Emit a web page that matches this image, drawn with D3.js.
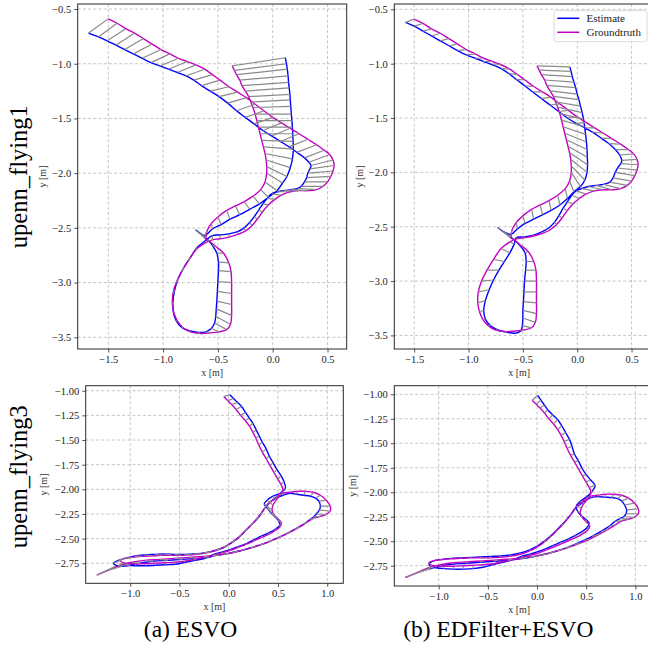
<!DOCTYPE html>
<html><head><meta charset="utf-8">
<script src="https://cdn.jsdelivr.net/npm/d3@7"></script>
<style>body{margin:0;background:#fff}svg{display:block}</style>
</head><body>
<svg id="chart" width="648" height="648"></svg>
<script>
// ---------------- data (metres) ----------------
const gtFlying1 = [
 [-1.50,-0.59],[-1.42,-0.63],[-1.34,-0.68],[-1.26,-0.72],[-1.18,-0.77],[-1.10,-0.82],[-1.02,-0.87],[-0.94,-0.91],[-0.86,-0.95],[-0.78,-0.98],[-0.70,-1.01],[-0.62,-1.05],[-0.55,-1.10],[-0.48,-1.15],[-0.40,-1.21],[-0.32,-1.26],[-0.24,-1.31],[-0.16,-1.37],[-0.08,-1.43],[0.00,-1.49],[0.08,-1.54],[0.16,-1.59],[0.24,-1.64],[0.32,-1.69],[0.40,-1.74],[0.47,-1.79],[0.52,-1.83],[0.55,-1.88],
 [0.56,-1.93],[0.55,-1.98],[0.53,-2.03],[0.50,-2.08],[0.46,-2.12],[0.40,-2.15],[0.32,-2.16],[0.24,-2.16],[0.16,-2.17],
 [0.08,-2.20],[0.02,-2.24],[-0.04,-2.29],[-0.09,-2.35],[-0.14,-2.42],[-0.19,-2.48],[-0.25,-2.53],[-0.32,-2.56],[-0.40,-2.585],[-0.48,-2.60],[-0.55,-2.61],
 [-0.62,-2.64],[-0.70,-2.70],[-0.77,-2.80],[-0.83,-2.90],[-0.88,-3.00],[-0.91,-3.10],[-0.915,-3.20],[-0.90,-3.28],[-0.87,-3.35],[-0.82,-3.41],[-0.75,-3.45],[-0.66,-3.465],[-0.57,-3.46],[-0.49,-3.45],[-0.42,-3.43],[-0.385,-3.38],[-0.375,-3.30],[-0.375,-3.20],[-0.375,-3.10],[-0.375,-3.00],[-0.38,-2.90],[-0.40,-2.82],[-0.45,-2.73],[-0.52,-2.67],[-0.58,-2.62],
 [-0.615,-2.60],[-0.61,-2.59],
 [-0.60,-2.53],[-0.56,-2.46],[-0.50,-2.40],[-0.42,-2.34],[-0.34,-2.30],[-0.26,-2.26],[-0.18,-2.21],[-0.11,-2.15],[-0.07,-2.08],
 [-0.055,-2.00],[-0.055,-1.94],[-0.06,-1.88],[-0.07,-1.82],[-0.085,-1.76],[-0.10,-1.70],[-0.115,-1.64],[-0.13,-1.58],[-0.145,-1.52],[-0.16,-1.46],[-0.18,-1.40],[-0.20,-1.35],[-0.22,-1.30],[-0.25,-1.25],[-0.28,-1.20],[-0.30,-1.15],[-0.33,-1.10],[-0.35,-1.06],[-0.37,-1.02]
];
const estEsvoFlying1 = [
 [-1.68,-0.72],[-1.59,-0.755],[-1.51,-0.79],[-1.43,-0.83],[-1.35,-0.87],[-1.27,-0.91],[-1.19,-0.95],[-1.11,-0.99],[-1.03,-1.02],[-0.95,-1.05],[-0.87,-1.08],[-0.79,-1.11],[-0.72,-1.15],[-0.65,-1.20],[-0.57,-1.25],[-0.49,-1.30],[-0.41,-1.36],[-0.33,-1.43],[-0.25,-1.49],[-0.17,-1.55],[-0.09,-1.61],[-0.01,-1.66],[0.07,-1.71],[0.15,-1.76],[0.22,-1.81],[0.29,-1.86],[0.33,-1.90],[0.35,-1.93],
 [0.34,-1.96],[0.32,-2.00],[0.31,-2.04],[0.29,-2.08],[0.26,-2.12],[0.23,-2.14],[0.17,-2.15],[0.10,-2.16],[0.04,-2.17],
 [-0.01,-2.19],[-0.05,-2.23],[-0.09,-2.28],[-0.13,-2.34],[-0.17,-2.40],[-0.21,-2.45],[-0.26,-2.50],[-0.32,-2.535],[-0.40,-2.555],[-0.48,-2.565],[-0.55,-2.57],
 [-0.63,-2.63],[-0.69,-2.68],[-0.75,-2.77],[-0.81,-2.86],[-0.86,-2.96],[-0.895,-3.07],[-0.91,-3.18],[-0.905,-3.28],[-0.88,-3.35],[-0.83,-3.41],[-0.76,-3.44],[-0.68,-3.455],[-0.61,-3.45],[-0.56,-3.42],[-0.53,-3.37],[-0.52,-3.31],[-0.515,-3.24],[-0.51,-3.17],[-0.505,-3.08],[-0.50,-2.99],[-0.495,-2.89],[-0.495,-2.81],[-0.51,-2.73],[-0.55,-2.66],[-0.59,-2.61],
 [-0.70,-2.52],[-0.66,-2.55],
 [-0.62,-2.57],[-0.55,-2.51],[-0.47,-2.47],[-0.39,-2.42],[-0.30,-2.38],[-0.21,-2.33],[-0.12,-2.28],[-0.04,-2.22],[0.04,-2.16],
 [0.09,-2.09],[0.13,-2.03],[0.16,-1.95],[0.18,-1.87],[0.188,-1.78],[0.186,-1.71],[0.183,-1.64],[0.18,-1.58],[0.175,-1.52],[0.17,-1.46],[0.165,-1.39],[0.16,-1.33],[0.157,-1.28],[0.15,-1.22],[0.145,-1.17],[0.14,-1.11],[0.133,-1.05],[0.125,-1.00],[0.115,-0.945]
];
const estEdfFlying1 = [
 [-1.58,-0.62],[-1.50,-0.655],[-1.42,-0.70],[-1.34,-0.745],[-1.26,-0.79],[-1.18,-0.835],[-1.10,-0.88],[-1.02,-0.92],[-0.94,-0.95],[-0.86,-0.98],[-0.78,-1.01],[-0.70,-1.045],[-0.63,-1.09],[-0.56,-1.145],[-0.48,-1.205],[-0.41,-1.26],[-0.33,-1.32],[-0.25,-1.38],[-0.17,-1.44],[-0.09,-1.50],[-0.01,-1.55],[0.07,-1.59],[0.14,-1.63],[0.22,-1.685],[0.29,-1.735],[0.35,-1.79],[0.39,-1.84],[0.41,-1.89],
 [0.40,-1.92],[0.37,-1.96],[0.35,-2.00],[0.33,-2.05],[0.30,-2.09],[0.24,-2.11],[0.17,-2.12],[0.10,-2.13],[0.04,-2.15],
 [-0.01,-2.17],[-0.05,-2.21],[-0.09,-2.27],[-0.13,-2.33],[-0.17,-2.40],[-0.21,-2.46],[-0.26,-2.51],[-0.33,-2.55],[-0.41,-2.58],[-0.49,-2.595],[-0.56,-2.60],
 [-0.58,-2.66],[-0.62,-2.74],[-0.67,-2.82],[-0.72,-2.90],[-0.77,-2.99],[-0.81,-3.08],[-0.845,-3.18],[-0.86,-3.27],[-0.845,-3.35],[-0.80,-3.41],[-0.73,-3.45],[-0.65,-3.47],[-0.57,-3.48],[-0.52,-3.46],[-0.505,-3.41],[-0.50,-3.34],[-0.50,-3.27],[-0.495,-3.19],[-0.49,-3.10],[-0.485,-3.00],[-0.475,-2.90],[-0.47,-2.82],[-0.48,-2.74],[-0.53,-2.67],[-0.58,-2.62],
 [-0.73,-2.51],[-0.67,-2.55],
 [-0.61,-2.57],[-0.55,-2.52],[-0.48,-2.47],[-0.40,-2.43],[-0.32,-2.39],[-0.24,-2.35],[-0.16,-2.30],[-0.09,-2.24],[-0.03,-2.18],
 [0.03,-2.13],[0.07,-2.07],[0.09,-2.00],[0.095,-1.93],[0.093,-1.86],[0.09,-1.79],[0.085,-1.72],[0.077,-1.65],[0.068,-1.58],[0.058,-1.51],[0.045,-1.45],[0.03,-1.39],[0.015,-1.33],[0.0,-1.28],[-0.015,-1.22],[-0.03,-1.17],[-0.045,-1.12],[-0.057,-1.07],[-0.068,-1.03]
];
const gtFlying3 = [
 [-0.05,-1.06],[-0.01,-1.10],[0.03,-1.14],[0.075,-1.19],[0.12,-1.25],[0.165,-1.30],[0.21,-1.36],[0.245,-1.42],[0.275,-1.48],[0.305,-1.55],[0.34,-1.62],[0.38,-1.69],[0.42,-1.76],[0.46,-1.83],[0.50,-1.90],[0.53,-1.95],[0.55,-2.00],
 [0.52,-2.06],[0.48,-2.11],[0.45,-2.16],[0.44,-2.21],[0.46,-2.26],[0.50,-2.30],[0.535,-2.34],[0.52,-2.38],[0.47,-2.42],[0.40,-2.46],[0.33,-2.49],[0.25,-2.525],[0.17,-2.56],[0.09,-2.59],[0.01,-2.62],[-0.07,-2.645],[-0.15,-2.665],
 [-0.25,-2.69],[-0.35,-2.71],[-0.45,-2.73],[-0.55,-2.74],[-0.65,-2.745],[-0.75,-2.75],[-0.85,-2.755],[-0.95,-2.755],[-1.03,-2.75],
 [-1.08,-2.74],[-1.10,-2.72],[-1.06,-2.70],[-0.98,-2.69],
 [-0.88,-2.68],[-0.78,-2.675],[-0.68,-2.67],[-0.58,-2.67],[-0.48,-2.67],[-0.38,-2.665],[-0.28,-2.655],[-0.18,-2.635],[-0.08,-2.60],
 [0.00,-2.56],[0.07,-2.51],[0.13,-2.46],[0.19,-2.40],[0.25,-2.34],[0.30,-2.28],[0.34,-2.23],[0.38,-2.17],[0.43,-2.12],[0.49,-2.07],[0.55,-2.04],
 [0.62,-2.03],[0.70,-2.02],[0.78,-2.02],[0.86,-2.03],[0.93,-2.06],[0.99,-2.11],[1.03,-2.17],[1.03,-2.22],[0.99,-2.255],[0.93,-2.275],[0.87,-2.29],
 [0.80,-2.33],[0.72,-2.38],[0.63,-2.43],[0.54,-2.475],[0.45,-2.515],[0.36,-2.55],[0.27,-2.58],[0.18,-2.605],[0.09,-2.63],[0.00,-2.65],[-0.10,-2.665],
 [-0.25,-2.68],[-0.40,-2.69],[-0.55,-2.70],[-0.70,-2.71],[-0.85,-2.72],[-0.98,-2.74],[-1.10,-2.77],[-1.22,-2.82],[-1.34,-2.87]
];
const estEsvoFlying3 = [
 [0.01,-1.04],[0.05,-1.08],[0.09,-1.12],[0.13,-1.16],[0.17,-1.22],[0.21,-1.28],[0.245,-1.33],[0.28,-1.40],[0.31,-1.46],[0.34,-1.52],[0.38,-1.59],[0.41,-1.66],[0.45,-1.73],[0.49,-1.80],[0.53,-1.86],[0.56,-1.92],[0.575,-1.99],
 [0.52,-2.04],[0.45,-2.07],[0.39,-2.11],[0.36,-2.15],[0.39,-2.19],[0.44,-2.25],[0.50,-2.31],[0.52,-2.36],[0.48,-2.40],[0.41,-2.44],[0.34,-2.47],[0.26,-2.51],[0.18,-2.55],[0.10,-2.58],[0.02,-2.61],[-0.06,-2.635],[-0.14,-2.655],
 [-0.24,-2.70],[-0.34,-2.72],[-0.44,-2.74],[-0.54,-2.76],[-0.64,-2.765],[-0.74,-2.77],[-0.84,-2.775],[-0.94,-2.775],[-1.04,-2.77],
 [-1.12,-2.78],[-1.17,-2.75],[-1.12,-2.72],[-1.05,-2.70],
 [-0.95,-2.675],[-0.85,-2.665],[-0.75,-2.66],[-0.65,-2.655],[-0.55,-2.66],[-0.45,-2.66],[-0.35,-2.655],[-0.25,-2.645],[-0.14,-2.62],
 [-0.05,-2.59],[0.03,-2.54],[0.10,-2.49],[0.16,-2.43],[0.22,-2.37],[0.28,-2.31],[0.32,-2.26],[0.36,-2.20],[0.41,-2.14],[0.48,-2.09],[0.55,-2.06],
 [0.62,-2.04],[0.69,-2.05],[0.76,-2.06],[0.83,-2.07],[0.88,-2.09],[0.915,-2.12],[0.93,-2.17],[0.92,-2.21],[0.89,-2.25],[0.86,-2.28],[0.82,-2.31],
 [0.76,-2.355],[0.67,-2.405],[0.58,-2.455],[0.49,-2.495],[0.40,-2.535],[0.31,-2.565],[0.22,-2.595],[0.13,-2.62],[0.04,-2.64],[-0.05,-2.66],[-0.16,-2.675],
 [-0.20,-2.69],[-0.33,-2.70],[-0.47,-2.71],[-0.62,-2.72],[-0.77,-2.73],[-0.90,-2.75],[-1.00,-2.77],[-1.08,-2.78],[-1.15,-2.78]
];
const estEdfFlying3 = [
 [0.007,-1.01],[0.04,-1.06],[0.075,-1.11],[0.11,-1.16],[0.16,-1.21],[0.21,-1.26],[0.25,-1.32],[0.29,-1.39],[0.33,-1.46],[0.355,-1.53],[0.38,-1.61],[0.42,-1.68],[0.46,-1.76],[0.50,-1.82],[0.54,-1.87],[0.59,-1.93],[0.56,-1.99],
 [0.50,-2.05],[0.44,-2.09],[0.40,-2.14],[0.41,-2.19],[0.45,-2.24],[0.50,-2.28],[0.53,-2.32],[0.51,-2.36],[0.46,-2.40],[0.39,-2.44],[0.32,-2.475],[0.24,-2.51],[0.16,-2.545],[0.08,-2.58],[0.0,-2.61],[-0.08,-2.635],[-0.16,-2.655],
 [-0.25,-2.69],[-0.35,-2.715],[-0.45,-2.74],[-0.55,-2.765],[-0.65,-2.78],[-0.75,-2.785],[-0.85,-2.785],[-0.95,-2.78],[-1.03,-2.77],
 [-1.08,-2.76],[-1.10,-2.73],[-1.05,-2.70],[-0.97,-2.685],
 [-0.87,-2.675],[-0.77,-2.67],[-0.67,-2.665],[-0.57,-2.66],[-0.47,-2.655],[-0.37,-2.65],[-0.27,-2.64],[-0.17,-2.62],[-0.07,-2.585],
 [0.01,-2.545],[0.08,-2.495],[0.14,-2.445],[0.20,-2.385],[0.26,-2.325],[0.31,-2.27],[0.35,-2.22],[0.385,-2.17],[0.43,-2.13],[0.49,-2.085],[0.55,-2.055],
 [0.62,-2.045],[0.69,-2.05],[0.76,-2.055],[0.82,-2.065],[0.86,-2.09],[0.89,-2.13],[0.91,-2.18],[0.905,-2.22],[0.88,-2.25],[0.84,-2.27],[0.79,-2.30],
 [0.73,-2.35],[0.65,-2.40],[0.56,-2.45],[0.47,-2.495],[0.38,-2.535],[0.29,-2.57],[0.20,-2.60],[0.11,-2.625],[0.02,-2.645],[-0.07,-2.665],[-0.17,-2.68],
 [-0.30,-2.695],[-0.44,-2.705],[-0.58,-2.715],[-0.72,-2.725],[-0.86,-2.735],[-0.98,-2.75],[-1.05,-2.77],[-1.08,-2.78],[-1.10,-2.78]
];
const xTicksFlying1 = [-1.5,-1.0,-0.5,0.0,0.5];
const yTicksFlying1 = [-0.5,-1.0,-1.5,-2.0,-2.5,-3.0,-3.5];
const xTicksFlying3 = [-1.0,-0.5,0.0,0.5,1.0];
const yTicksFlying3 = [-1.00,-1.25,-1.50,-1.75,-2.00,-2.25,-2.50,-2.75];
const rowLabels = ["upenn_flying1","upenn_flying3"];
const colLabels = ["(a) ESVO","(b) EDFilter+ESVO"];
const seriesNames = ["Estimate","Groundtruth"];

// ---------------- layout ----------------
const COL_EST = "#0000ff", COL_GT = "#c400c4", COL_ASSOC = "#8a8a8a";
const FONT = "'Liberation Serif','Times New Roman',serif";
const panels = [
  {box:[77.7,4,346.7,349], xd:[-1.779,0.675], yd:[-0.454,-3.607], gt:gtFlying1, est:estEsvoFlying1, xt:xTicksFlying1, yt:yTicksFlying1, yf:".1f", ylab:32, legend:false},
  {box:[394.3,4,652,349], xd:[-1.683,0.688], yd:[-0.451,-3.625], gt:gtFlying1, est:estEdfFlying1, xt:xTicksFlying1, yt:yTicksFlying1, yf:".1f", ylab:31, legend:true},
  {box:[85.7,385.7,343.3,583.3], xd:[-1.452,1.163], yd:[-0.949,-2.953], gt:gtFlying3, est:estEsvoFlying3, xt:xTicksFlying3, yt:yTicksFlying3, yf:".2f", ylab:38.5, legend:false},
  {box:[394.3,385.7,652,586], xd:[-1.452,1.169], yd:[-0.912,-2.957], gt:gtFlying3, est:estEdfFlying3, xt:xTicksFlying3, yt:yTicksFlying3, yf:".2f", ylab:38, legend:false}
];

const svg = d3.select("#chart");
svg.append("rect").attr("width",648).attr("height",648).attr("fill","#fff");

panels.forEach((p,i)=>{
  const [x0,y0,x1,y1] = p.box;
  const xs = d3.scaleLinear().domain(p.xd).range([x0,x1]);
  const ys = d3.scaleLinear().domain(p.yd).range([y0,y1]);
  const g = svg.append("g");
  const cid = "clip"+i;
  g.append("clipPath").attr("id",cid).append("rect").attr("x",x0).attr("y",y0).attr("width",x1-x0).attr("height",y1-y0);
  // grid
  const grid = g.append("g").attr("stroke","#b8b8b8").attr("stroke-width",0.8).attr("stroke-dasharray","3,2.2");
  p.xt.forEach(t=>grid.append("line").attr("x1",xs(t)).attr("x2",xs(t)).attr("y1",y0).attr("y2",y1));
  p.yt.forEach(t=>grid.append("line").attr("y1",ys(t)).attr("y2",ys(t)).attr("x1",x0).attr("x2",x1));
  // trajectories
  const plot = g.append("g").attr("clip-path",`url(#${cid})`);
  const line = d3.line().x(d=>xs(d[0])).y(d=>ys(d[1])).curve(d3.curveCatmullRom.alpha(0.5));
  plot.append("path").datum(p.est).attr("d",line).attr("fill","none").attr("stroke",COL_EST).attr("stroke-width",1.4);
  plot.append("path").datum(p.gt).attr("d",line).attr("fill","none").attr("stroke",COL_GT).attr("stroke-width",1.4);
  plot.append("g").selectAll("line").data(d3.range(Math.min(p.gt.length,p.est.length))).join("line")
    .attr("x1",k=>xs(p.est[k][0])).attr("y1",k=>ys(p.est[k][1]))
    .attr("x2",k=>xs(p.gt[k][0])).attr("y2",k=>ys(p.gt[k][1]))
    .attr("stroke",COL_ASSOC).attr("stroke-width",1.2);
  // frame
  g.append("rect").attr("x",x0).attr("y",y0).attr("width",x1-x0).attr("height",y1-y0)
    .attr("fill","none").attr("stroke","#2a2a2a").attr("stroke-width",1);
  // axes
  const xAxis = d3.axisBottom(xs).tickValues(p.xt).tickFormat(d3.format(".1f")).tickSize(3.5).tickPadding(3);
  const yAxis = d3.axisLeft(ys).tickValues(p.yt).tickFormat(d3.format(p.yf)).tickSize(3.5).tickPadding(3);
  const gx = g.append("g").attr("transform",`translate(0,${y1})`).call(xAxis);
  const gy = g.append("g").attr("transform",`translate(${x0},0)`).call(yAxis);
  [gx,gy].forEach(a=>{
    a.select(".domain").remove();
    a.selectAll(".tick line").attr("stroke","#2a2a2a").attr("stroke-width",0.8);
    a.selectAll(".tick text").attr("font-family",FONT).attr("font-size",10.5).attr("fill","#222");
  });
  g.append("text").attr("x",(x0+Math.min(x1,648))/2 + (i%2===1?-2:0)).attr("y",y1+26.5).attr("text-anchor","middle")
    .attr("font-family",FONT).attr("font-size",10).attr("fill","#333").text("x [m]");
  g.append("text").attr("transform",`translate(${x0-p.ylab},${(y0+y1)/2}) rotate(-90)`).attr("text-anchor","middle")
    .attr("font-family",FONT).attr("font-size",10).attr("fill","#333").text("y [m]");
  if(p.legend){
    const lg = g.append("g");
    lg.append("rect").attr("x",554).attr("y",10.7).attr("width",93).attr("height",31).attr("rx",2.5)
      .attr("fill","#fff").attr("fill-opacity",0.85).attr("stroke","#cfcfcf").attr("stroke-width",0.8);
    [COL_EST,COL_GT].forEach((c,k)=>{
      const yy = 18.3 + k*14;
      lg.append("line").attr("x1",557.3).attr("x2",579.3).attr("y1",yy).attr("y2",yy).attr("stroke",c).attr("stroke-width",1.5);
      lg.append("text").attr("x",586.5).attr("y",yy+3.8).attr("font-family",FONT).attr("font-size",11).attr("fill","#222").text(seriesNames[k]);
    });
  }
});

// row labels
[[176.7,rowLabels[0]],[476.7,rowLabels[1]]].forEach(([cy,t])=>{
  svg.append("text").attr("transform",`translate(26.5,${cy}) rotate(-90)`).attr("text-anchor","middle")
    .attr("font-family",FONT).attr("font-size",24.5).attr("fill","#000").text(t);
});
// column captions
[[190.5,colLabels[0]],[498.3,colLabels[1]]].forEach(([cx,t])=>{
  svg.append("text").attr("x",cx).attr("y",637).attr("text-anchor","middle")
    .attr("font-family",FONT).attr("font-size",23.5).attr("fill","#000").text(t);
});
</script>
</body></html>
